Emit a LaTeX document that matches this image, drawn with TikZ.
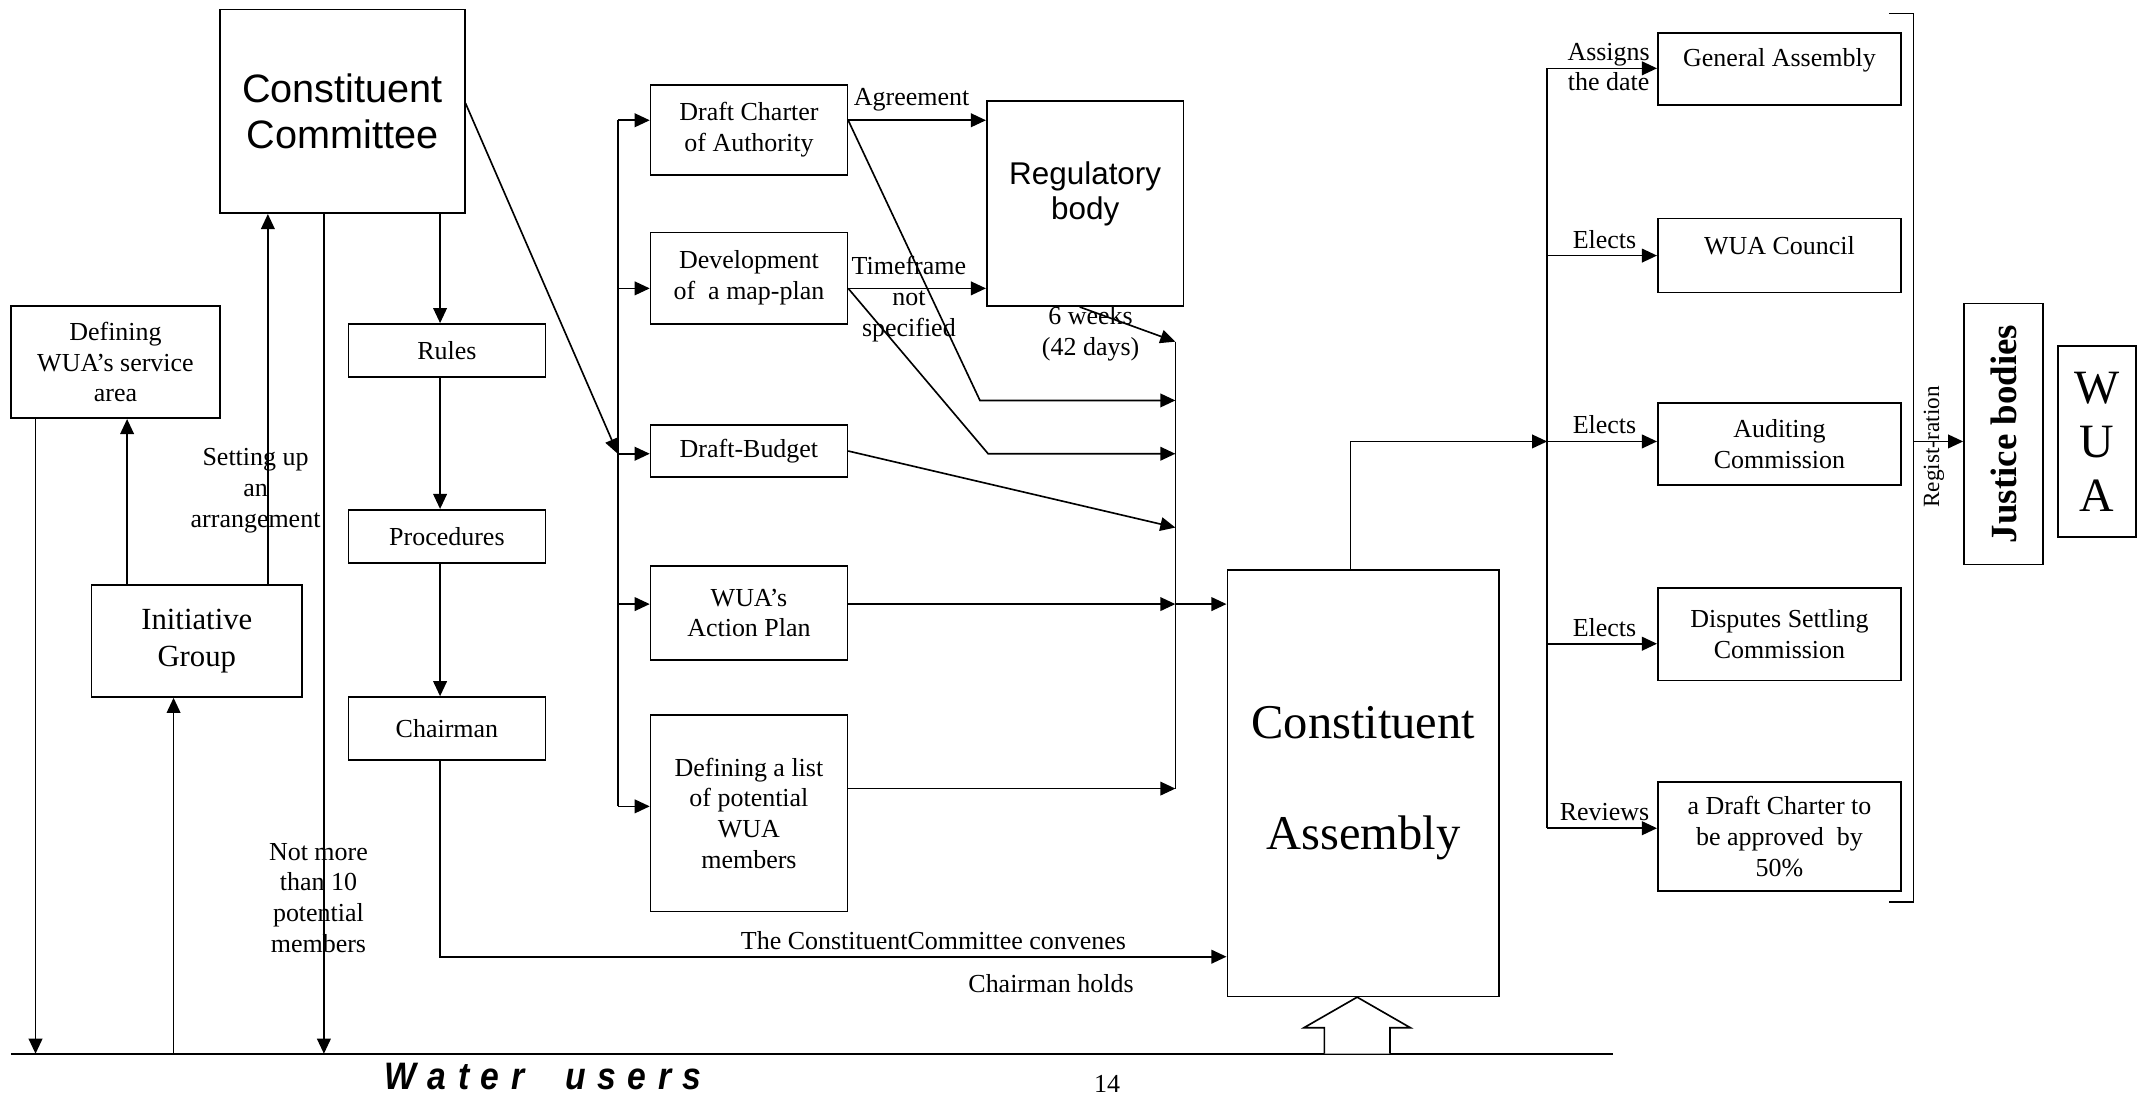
\documentclass[tikz,border=0pt]{standalone}
\usepackage{fontspec}
\setmainfont{Liberation Serif}
\newfontfamily\arialf{Liberation Sans}
\newfontfamily\arialnf[FakeStretch=0.88]{Liberation Sans}
\usetikzlibrary{arrows.meta,calc}
\newcommand\fsS{\fontsize{19}{22.5}\selectfont}
\newcommand\ccF{\arialf\fontsize{29}{34}\selectfont}
\newcommand\rbF{\arialf\fontsize{23}{26}\selectfont}
\newcommand\igF{\fontsize{22.5}{27}\selectfont}
\newcommand\caF{\fontsize{35.5}{81}\selectfont}
\newcommand\jbF{\bfseries\fontsize{27}{30}\selectfont}
\newcommand\wuaF{\fontsize{35}{39.5}\selectfont}
\newcommand\rgF{\fontsize{17}{20}\selectfont}
\newcommand\wuF{\arialnf\bfseries\itshape\fontsize{28}{28}\selectfont}
\newcommand\lsp{\hspace{8.5pt}}
\begin{document}
\begin{tikzpicture}[x=1pt,y=-1pt,
  box/.style={draw, line width=1.2pt, inner sep=0pt, align=center, font=\fsS},
  lbl/.style={align=center, inner sep=0pt, font=\fsS},
  ln/.style={line width=1.2pt},
  arr/.style={line width=1.2pt, -{Triangle[length=11pt,width=10pt]}}]
\useasboundingbox (0,0) rectangle (1568,802);
\fill[white] (0,0) rectangle (1568,802);

% ---------- boxes ----------
\node[box, minimum width=179pt, minimum height=149pt, font=\ccF] (cc) at (250.5,81.5) {Constituent\\Committee};
\node[box, minimum width=153pt, minimum height=82pt] (def) at (84.5,265) {Defining\\WUA’s service\\area};
\node[box, minimum width=154pt, minimum height=82pt, font=\igF] (ig) at (144,469) {Initiative\\Group};
\node[box, minimum width=144pt, minimum height=39pt] (rules) at (327,256.5) {Rules};
\node[box, minimum width=144pt, minimum height=39pt] (proc) at (327,392.5) {Procedures};
\node[box, minimum width=144pt, minimum height=46pt] (chair) at (327,533) {Chairman};

\node[box, minimum width=144pt, minimum height=66pt] (dca) at (548,95) {Draft Charter\\of Authority};
\node[box, minimum width=144pt, minimum height=67pt] (dmp) at (548,203.5) {Development\\of~ a map-plan};
\node[box, minimum width=144pt, minimum height=38pt] (db) at (548,330) {Draft-Budget};
\node[box, minimum width=144pt, minimum height=69pt] (wap) at (548,448.5) {WUA’s\\Action Plan};
\node[box, minimum width=144pt, minimum height=144pt] (dl) at (548,595) {Defining a list\\of potential\\WUA\\members};

\node[box, minimum width=144pt, minimum height=150pt] (rb) at (794,149) {};
\node[lbl, font=\rbF] (rbt) at (794,142) {Regulatory\\body};

\node[box, minimum width=199pt, minimum height=312pt, font=\caF] (ca) at (997.5,573) {Constituent\\Assembly};

\node[box, minimum width=178pt, minimum height=53pt] (ga) at (1302,50.5) {};
\node[lbl] (gat) at (1302,44) {General Assembly};
\node[box, minimum width=178pt, minimum height=54pt] (council) at (1302,187) {};
\node[lbl] (councilt) at (1302,180) {WUA Council};
\node[box, minimum width=178pt, minimum height=60pt] (audit) at (1302,325) {Auditing\\Commission};
\node[box, minimum width=178pt, minimum height=68pt] (disp) at (1302,464) {Disputes Settling\\Commission};
\node[box, minimum width=178pt, minimum height=80pt] (dch) at (1302,612) {a Draft Charter to\\be approved~ by\\50\%};

\node[draw, line width=1.2pt, rotate=90, inner sep=0pt, minimum width=191pt, minimum height=58pt, font=\jbF] (jb) at (1466,317.5) {Justice bodies};
\node[box, minimum width=57pt, minimum height=140pt, font=\wuaF] (wua) at (1534.5,323) {W\\U\\A};

% ---------- water users line ----------
\coordinate (wl) at (8,771);
\coordinate (wr) at (1180,771);
\draw[ln] (wl) -- (wr);
\node[anchor=base west, inner sep=0pt, font=\wuF] (wu) at (281,797) {W\lsp a\lsp t\lsp e\lsp r\hspace{30pt}u\lsp s\lsp e\lsp r\lsp s};
\node[anchor=base, inner sep=0pt, font=\fsS] (pg) at (810,799.5) {14};

% ---------- left part connectors ----------
\coordinate (x26) at (26,771);
\coordinate (x127) at (127,771);
\coordinate (x93) at (93,0);
\coordinate (x196) at (196,0);
\coordinate (x237) at (237,771);
\coordinate (x322) at (322,0);
\draw[arr] (def.south -| x26) -- (x26);
\draw[arr] (x127) -- (ig.south -| x127);
\draw[arr] (ig.north -| x93) -- (def.south -| x93);
\draw[arr] (ig.north -| x196) -- (cc.south -| x196);
\draw[arr] (cc.south -| x237) -- (x237);
\node[lbl] (setup) at (187,359) {Setting up\\an\\arrangement};
\node[lbl] (notmore) at (233,657) {Not more\\than 10\\potential\\members};

\draw[arr] (cc.south -| x322) -- (rules.north -| x322);
\draw[arr] (rules.south -| x322) -- (proc.north -| x322);
\draw[arr] (proc.south -| x322) -- (chair.north -| x322);
\coordinate (conv) at (898,700);
\draw[arr] (chair.south -| x322) |- (ca.west |- conv);
\node[lbl] (convl) at (683,688) {The ConstituentCommittee convenes};
\node[lbl] (holdl) at (769,720) {Chairman holds};

% ---------- left bus of middle column ----------
\coordinate (b1) at (452,88);
\coordinate (b2) at (452,211);
\coordinate (b3) at (452,332);
\coordinate (b4) at (452,442);
\coordinate (b5) at (452,590);
\draw[ln] (b1) -- (b5);
\draw[arr] ($(cc.east)+(0,-6)$) -- (b3);
\draw[arr] (b1) -- (b1 -| dca.west);
\draw[arr] (b2) -- (b2 -| dmp.west);
\draw[arr] (b3) -- (b3 -| db.west);
\draw[arr] (b4) -- (b4 -| wap.west);
\draw[arr] (b5) -- (b5 -| dl.west);

% ---------- to regulatory body ----------
\draw[arr] (b1 -| dca.east) -- (b1 -| rb.west);
\node[lbl] (agr) at (667,73) {Agreement};
\draw[arr] (b2 -| dmp.east) -- (b2 -| rb.west);
\node[lbl] (tf) at (665,219) {Timeframe\\not\\specified};

% ---------- merge bus ----------
\coordinate (m1) at (860,250);
\coordinate (m2) at (860,293);
\coordinate (m3) at (860,332);
\coordinate (m4) at (860,386);
\coordinate (m5) at (860,442);
\coordinate (m6) at (860,577);
\coordinate (k1) at (717,293);
\coordinate (k2) at (723,332);
\draw[ln] (m1) -- (m6);
\draw[arr] ($(rb.south)+(-4,0)$) -- (m1);
\node[lbl] (six) at (798,244.5) {6 weeks\\(42 days)};
\draw[arr] (b1 -| dca.east) -- (k1) -- (m2);
\draw[arr] (b2 -| dmp.east) -- (k2) -- (m3);
\draw[arr] (db.east) -- (m4);
\draw[arr] (b4 -| wap.east) -- (m5);
\draw[arr] (m5) -- (m5 -| ca.west);
\draw[arr] (m6 -| dl.east) -- (m6);

% ---------- hollow arrow ----------
\draw[ln, fill=white] (969,771) -- (969,752) -- (954,752) -- (ca.south -| 993,0) -- (1032,752) -- (1017,752) -- (1017,771);

% ---------- right bus ----------
\coordinate (x988) at (988,0);
\coordinate (r1) at (1132,50);
\coordinate (r2) at (1132,187);
\coordinate (r3) at (1132,323);
\coordinate (r4) at (1132,471);
\coordinate (r5) at (1132,606);
\draw[ln] (r1) -- (r5);
\draw[arr] (ca.north -| x988) |- (r3);
\draw[arr] (r1) -- (r1 -| ga.west);
\draw[arr] (r2) -- (r2 -| council.west);
\draw[arr] (r3) -- (r3 -| audit.west);
\draw[arr] (r4) -- (r4 -| disp.west);
\draw[arr] (r5) -- (r5 -| dch.west);
\node[lbl] (assigns) at (1177,49) {Assigns\\the date};
\node[lbl] (el1) at (1174,175) {Elects};
\node[lbl] (el2) at (1174,311) {Elects};
\node[lbl] (el3) at (1174,459) {Elects};
\node[lbl] (rev) at (1174,594) {Reviews};

% ---------- bracket and registration ----------
\coordinate (bt) at (1400,10);
\coordinate (bb) at (1400,660);
\coordinate (br3) at (1400,323);
\draw[ln] ($(bt)+(-18,0)$) -- (bt) -- (bb) -- ($(bb)+(-18,0)$);
\draw[arr] (br3) -- (jb.north |- br3);
\node[rotate=90, inner sep=0pt, font=\rgF] (reg) at (1415,327) {Regist-ration};
\end{tikzpicture}
\end{document}
